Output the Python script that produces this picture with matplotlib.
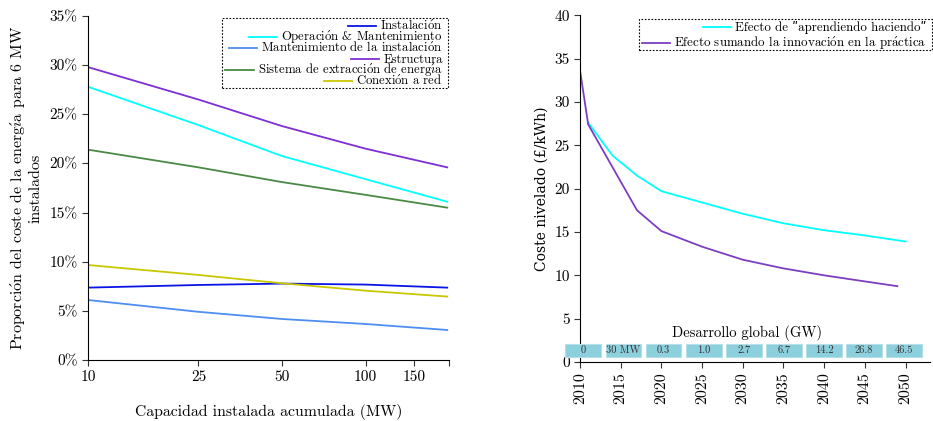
import matplotlib
matplotlib.use("Agg")
import matplotlib.pyplot as plt
from matplotlib.patches import Rectangle
from matplotlib.lines import Line2D
from matplotlib.mathtext import MathTextParser

plt.rcParams['font.family'] = ['cmr10', 'DejaVu Serif']
plt.rcParams['mathtext.fontset'] = 'cm'
plt.rcParams['axes.unicode_minus'] = False
plt.rcParams['axes.formatter.use_mathtext'] = True

# left panel: share of energy cost vs cumulative installed capacity
cap = [10, 25, 50, 100, 197]
instalacion = [7.36, 7.63, 7.77, 7.67, 7.36]
operacion = [27.8, 23.9, 20.75, 18.4, 16.1]
mant_inst = [6.1, 4.9, 4.17, 3.66, 3.05]
estructura = [29.8, 26.5, 23.8, 21.5, 19.6]
extraccion = [21.4, 19.6, 18.1, 16.8, 15.5]
conexion = [9.66, 8.65, 7.8, 7.05, 6.45]

# right panel: levelised cost vs year
years_lbd = [2011, 2014, 2017, 2020, 2025, 2030, 2035, 2040, 2045, 2050]
cost_lbd = [27.6, 23.8, 21.5, 19.7, 18.4, 17.1, 16.0, 15.2, 14.6, 13.9]
years_inn = [2010, 2011, 2015, 2017, 2020, 2025, 2030, 2035, 2040, 2045, 2049]
cost_inn = [33.6, 27.4, 20.8, 17.5, 15.1, 13.3, 11.8, 10.8, 10.0, 9.3, 8.75]
deploy = ['0', '30 MW', '0.3', '1.0', '2.7', '6.7', '14.2', '26.8', '46.5']

W, H = 933, 421
_parser = MathTextParser('path')


def ok(s):
    try:
        _parser.parse(s, 72)
        return True
    except Exception:
        return False


def tx(s):
    # cmr10 has no accented glyphs: build them with mathtext accents
    plain = s
    s = s.replace('"', '\u02ba')
    for ch, base in (('ó', 'o'), ('á', 'a'), ('í', '\\imath')):
        s = s.replace(ch, r'$\acute{\mathrm{%s}}$' % base)
    if '$' in s and not ok(s):
        return plain.replace('"', '\u02ba')
    return s


pound = r'$\pounds$' if ok(r'$\pounds$') else '£'

fig = plt.figure(figsize=(W / 100, H / 100), dpi=100)

ax1 = fig.add_axes([0.0943, 0.145, 0.387, 0.817])
ax1.plot(cap, instalacion, color='#0a14e6', lw=1.3, label=tx('Instalación'))
ax1.plot(cap, operacion, color='#00ffff', lw=1.3, label=tx('Operación & Mantenimiento'))
ax1.plot(cap, mant_inst, color='#4e8ef0', lw=1.3, label=tx('Mantenimiento de la instalación'))
ax1.plot(cap, estructura, color='#7f2fd6', lw=1.3, label='Estructura')
ax1.plot(cap, extraccion, color='#4a8a45', lw=1.3, label=tx('Sistema de extracción de energía'))
ax1.plot(cap, conexion, color='#c8c800', lw=1.3, label=tx('Conexión a red'))
ax1.set_xscale('log')
ax1.set_xlim(10, 200)
ax1.set_ylim(0, 35)
ax1.set_xticks([10, 25, 50, 100, 150, 200])
ax1.set_xticklabels(['10', '25', '50', '100', '150', ''])
ax1.xaxis.set_minor_locator(matplotlib.ticker.NullLocator())
ax1.set_yticks(range(0, 36, 5))
ax1.set_yticklabels([f'{v}%' for v in range(0, 36, 5)])
ax1.set_xlabel('Capacidad instalada acumulada (MW)', fontsize=11.3, labelpad=14)
ax1.set_ylabel(tx('Proporción del coste de la energía para 6 MW\ninstalados'), fontsize=11.5, labelpad=5)

ax2 = fig.add_axes([0.6217, 0.14, 0.375, 0.824])
ax2.plot(years_lbd, cost_lbd, color='#00ffff', lw=1.3, label=tx('Efecto de "aprendiendo haciendo"'))
ax2.plot(years_inn, cost_inn, color='#7b3fc0', lw=1.3, label=tx('Efecto sumando la innovación en la práctica'))
ax2.set_xlim(2010, 2053)
ax2.set_ylim(0, 40)
ax2.set_xticks(range(2010, 2051, 5))
ax2.set_xticklabels([str(y) for y in range(2010, 2051, 5)], rotation=90)
ax2.set_yticks(range(0, 41, 5))
ax2.set_yticklabels([str(v) for v in range(0, 41, 5)])
ylab = ax2.set_ylabel('Coste nivelado (' + pound + '/kWh)', fontsize=11)
if pound == '£':
    ylab.set_family(['DejaVu Serif'])
    ylab.set_fontsize(10)

for i, lab in enumerate(deploy):
    x0 = 2008.2 + i * 4.93
    ax2.add_patch(Rectangle((x0, 0.6), 4.4, 1.5, facecolor='#8ccfdd', edgecolor='#b5e0ea',
                            lw=0.8, clip_on=False, zorder=3))
    ax2.text(x0 + 2.2, 1.35, lab, ha='center', va='center', fontsize=7.5, color='#333333', zorder=4)
ax2.text(2030.5, 3.3, 'Desarrollo global (GW)', ha='center', va='center', fontsize=10.5)

for ax in (ax1, ax2):
    ax.spines['top'].set_visible(False)
    ax.spines['right'].set_visible(False)
    ax.tick_params(labelsize=11, length=4, color='#333333')
ax2.tick_params(axis='x', labelsize=11.5)


# legends drawn by hand: right-aligned rows, tight spacing, dotted frame
def fx(px):
    return px / W


def fy(py):
    return 1 - py / H


def legend_right(ax, x_text, y_first, pitch, frame_right, frame_top, frame_bottom, size):
    handles, labels = ax.get_legend_handles_labels()
    texts = []
    for i, (h, lab) in enumerate(zip(handles, labels)):
        yc = y_first + i * pitch
        t = fig.text(fx(x_text), fy(yc + 4.3), lab, ha='right', va='baseline', fontsize=size)
        texts.append((t, h, yc))
    fig.canvas.draw()
    left = frame_right
    for t, h, yc in texts:
        x0 = t.get_window_extent().x0
        xa, xb = x0 - 4 - 28.3, x0 - 4
        left = min(left, xa)
        fig.add_artist(Line2D([fx(xa), fx(xb)], [fy(yc), fy(yc)], transform=fig.transFigure,
                              color=h.get_color(), lw=1.3))
    left -= 3
    fig.add_artist(Rectangle((fx(left), fy(frame_bottom)), fx(frame_right) - fx(left),
                             fy(frame_top) - fy(frame_bottom), transform=fig.transFigure,
                             fill=False, edgecolor='black', lw=0.8, linestyle=(0, (1.5, 1.5))))


legend_right(ax1, 442.7, 25.7, 11.05, 447.7, 18.3, 88.3, 9.2)
legend_right(ax2, 926.7, 26.7, 16.0, 931.7, 19.3, 50.0, 9.3)

fig.savefig('out.png', dpi=100)
